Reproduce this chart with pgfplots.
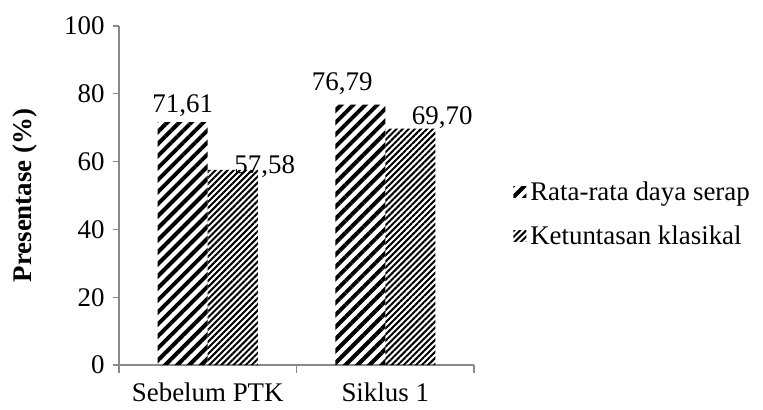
\documentclass[border=0pt]{standalone}
\usepackage{pgfplots}
\pgfplotsset{compat=1.18}
\usepackage{fontspec}
\setmainfont{Liberation Serif}
\usetikzlibrary{patterns.meta}

\definecolor{axisgray}{HTML}{898989}

% label offsets (dx, dy) per bar, in bp
\pgfplotstableread{
x  y      dx   dy
0  71.61   0   10
1  76.79  -18  14
}\serap
\pgfplotstableread{
x  y      dx   dy
0  57.58  32   -4
1  69.70  32    4
}\tuntas

\begin{document}
\begin{tikzpicture}[font=\fontsize{27}{32}\selectfont]
\useasboundingbox (-119bp,-45bp) rectangle (644bp,365bp);
\begin{axis}[
  scale only axis,
  width=355bp, height=339bp,
  at={(0,0)}, anchor=south west,
  /pgf/number format/assume math mode=true,
  ybar=0pt, bar width=50bp,
  xmin=-0.5, xmax=1.5,
  ymin=0, ymax=100,
  ytick={0,20,...,100},
  xtick={0,1},
  xticklabels={Sebelum PTK, Siklus 1},
  minor xtick={-0.5,0.5,1.5},
  major x tick style={draw=none},
  minor tick length=8bp,
  major tick length=6bp,
  tick align=outside,
  tick style={axisgray, line width=1.2bp},
  axis x line*=bottom, axis y line*=left,
  axis line style={axisgray, line width=1.2bp, -},
  every outer x axis line/.append style={shorten <=-6bp},
  xticklabel style={yshift=-8bp},
  yticklabel style={xshift=-5bp},
  ylabel={\textbf{Presentase (\%)}},
  ylabel style={at={(axis description cs:-0.265,0.5)}, anchor=center},
  clip=false,
  nodes near coords={\pgfmathprintnumber[fixed,fixed zerofill,precision=2,use comma]{\pgfplotspointmeta}},
  visualization depends on={\thisrow{dx} \as \dx},
  visualization depends on={\thisrow{dy} \as \dy},
  every node near coord/.append style={anchor=base, inner sep=0pt, xshift=\dx bp, yshift=\dy bp, black},
  legend style={at={(rel axis cs:1.11,0.445)}, anchor=west, draw=none, fill=none,
    inner sep=0pt, row sep=16bp, nodes={inner sep=4bp}},
  legend cell align=left,
  legend image code/.code={\path[#1] (0bp,-5bp) rectangle (13bp,6bp);},
]
\addplot[draw=none, pattern={Lines[angle=45,distance=8.5bp,line width=4bp]}, pattern color=black]
  table[x=x,y=y] {\serap};
\addplot[draw=none, pattern={Lines[angle=45,distance=4.3bp,line width=2bp]}, pattern color=black]
  table[x=x,y=y] {\tuntas};
\legend{Rata-rata daya serap, Ketuntasan klasikal}
\end{axis}
\end{tikzpicture}
\end{document}
